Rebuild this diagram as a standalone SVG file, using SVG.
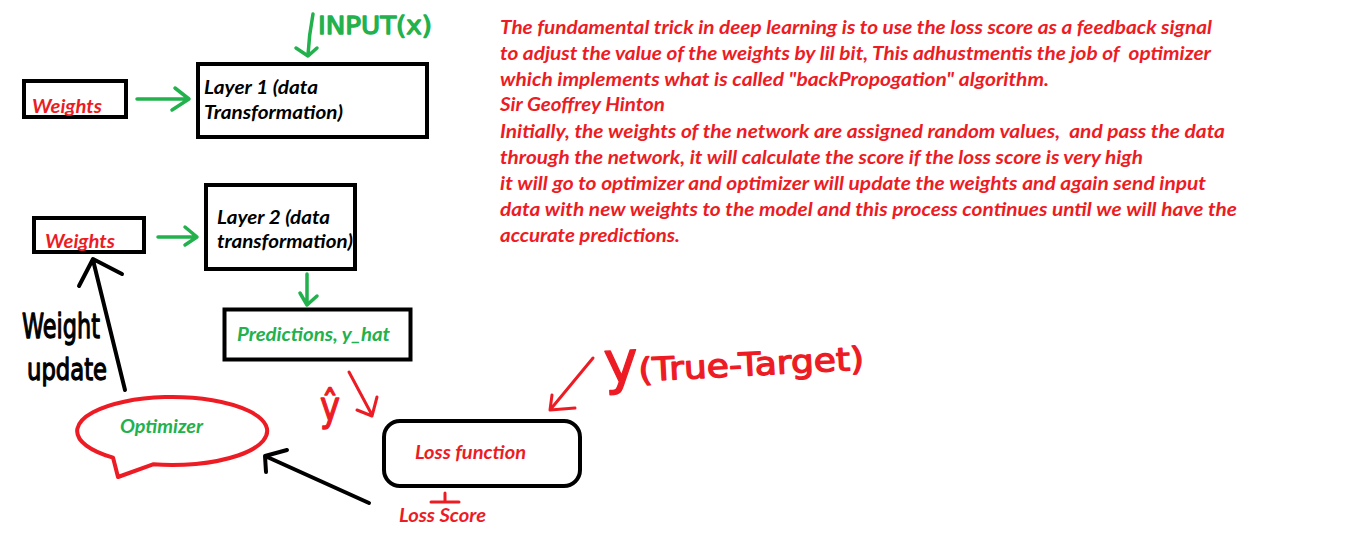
<svg xmlns="http://www.w3.org/2000/svg" width="1355" height="558" viewBox="0 0 1355 558">
<style>
.t{font-family:Lato,"Open Sans","Liberation Sans",sans-serif;font-weight:bold;font-style:italic;font-size:18px}
.blk{fill:#000}
.red{fill:#ED1C24}
.grn{fill:#22B14C}
.box{fill:none;stroke:#000;stroke-width:4}
.hand{font-family:"DejaVu Sans","Liberation Sans",sans-serif;font-weight:normal;stroke-width:1.3;stroke-linejoin:round}
.hand.red{stroke:#ED1C24}
.hand.grn{stroke:#22B14C}
.hand.blk{stroke:#000}
.body{white-space:pre}
.ln{fill:none;stroke-linecap:round;stroke-linejoin:round}
.g{stroke:#22B14C;stroke-width:3.5}
.r{stroke:#ED1C24;stroke-width:3}
.k{stroke:#000;stroke-width:4}
</style>
<rect width="1355" height="558" fill="#fff"/>

<g id="input">
  <text class="hand grn" x="318" y="34" font-size="24" textLength="114" lengthAdjust="spacingAndGlyphs">INPUT(x)</text>
</g>

<g id="weights1">
  <rect class="box" x="24" y="81" width="102" height="36"/>
  <text class="t red" x="32" y="113" textLength="70" lengthAdjust="spacingAndGlyphs">Weights</text>
</g>

<g id="layer1">
  <rect class="box" x="198" y="64" width="229" height="73"/>
  <text class="t blk" x="204" y="94" textLength="114" lengthAdjust="spacingAndGlyphs">Layer 1 (data</text>
  <text class="t blk" x="204" y="119" textLength="139" lengthAdjust="spacingAndGlyphs">Transformation)</text>
</g>

<g id="weights2">
  <rect class="box" x="34" y="218" width="110" height="34"/>
  <text class="t red" x="45" y="248" textLength="70" lengthAdjust="spacingAndGlyphs">Weights</text>
</g>

<g id="layer2">
  <rect class="box" x="206" y="185" width="149" height="84"/>
  <text class="t blk" x="217" y="224" textLength="113" lengthAdjust="spacingAndGlyphs">Layer 2 (data</text>
  <text class="t blk" x="217" y="248" textLength="136" lengthAdjust="spacingAndGlyphs">transformation)</text>
</g>

<g id="predictions">
  <rect class="box" x="224.5" y="309.5" width="186" height="50" stroke-width="5"/>
  <text class="t grn" x="237" y="341" textLength="153" lengthAdjust="spacingAndGlyphs">Predictions, y_hat</text>
</g>

<g id="optimizer">
  <path d="M113,457.6 L118,477 L153,464.3 A95,34 0 1 0 113,457.6 Z" fill="none" stroke="#ED1C24" stroke-width="4" stroke-linejoin="round"/>
  <text class="t grn" x="120" y="433" textLength="83" lengthAdjust="spacingAndGlyphs">Optimizer</text>
</g>

<g id="loss-function">
  <rect class="box" x="384" y="421" width="196" height="65" rx="16"/>
  <text class="t red" x="415" y="459" textLength="111" lengthAdjust="spacingAndGlyphs">Loss function</text>
</g>

<g id="loss-score">
  <path class="ln r" d="M445,493 L445,502 M431,502 L459,502"/>
  <text class="t red" x="399" y="522" textLength="87" lengthAdjust="spacingAndGlyphs">Loss Score</text>
</g>

<g id="weight-update-label">
  <text class="hand blk" x="22" y="338" font-size="34" textLength="78" lengthAdjust="spacingAndGlyphs">Weight</text>
  <text class="hand blk" x="27" y="380" font-size="30" textLength="80" lengthAdjust="spacingAndGlyphs">update</text>
</g>

<g id="y-hat-label">
  <text class="hand red" x="320" y="420" font-size="40" textLength="20" lengthAdjust="spacingAndGlyphs">ŷ</text>
</g>

<g id="true-target-label">
  <text class="hand red" transform="rotate(-3 606 370)"><tspan x="604" y="383" font-size="58">y</tspan><tspan font-size="32" textLength="226" lengthAdjust="spacingAndGlyphs">(True-Target)</tspan></text>
</g>

<g id="description">
  <text class="t red body" x="500" y="34" textLength="712" lengthAdjust="spacingAndGlyphs">The fundamental trick in deep learning is to use the loss score as a feedback signal</text>
  <text class="t red body" x="500" y="60" textLength="711" lengthAdjust="spacingAndGlyphs">to adjust the value of the weights by lil bit, This adhustmentis the job of  optimizer</text>
  <text class="t red body" x="500" y="86" textLength="549" lengthAdjust="spacingAndGlyphs">which implements what is called "backPropogation" algorithm.</text>
  <text class="t red body" x="500" y="111" textLength="165" lengthAdjust="spacingAndGlyphs">Sir Geoffrey Hinton</text>
  <text class="t red body" x="500" y="138" textLength="725" lengthAdjust="spacingAndGlyphs">Initially, the weights of the network are assigned random values,  and pass the data</text>
  <text class="t red body" x="500" y="164" textLength="643" lengthAdjust="spacingAndGlyphs">through the network, it will calculate the score if the loss score is very high</text>
  <text class="t red body" x="500" y="190" textLength="706" lengthAdjust="spacingAndGlyphs">it will go to optimizer and optimizer will update the weights and again send input</text>
  <text class="t red body" x="500" y="216" textLength="737" lengthAdjust="spacingAndGlyphs">data with new weights to the model and this process continues until we will have the</text>
  <text class="t red body" x="500" y="242" textLength="180" lengthAdjust="spacingAndGlyphs">accurate predictions.</text>
</g>

<g id="connectors">
  <path class="ln g" d="M313,14 Q309,35 308,55 M296,48 L308,56 L317,48"/>
  <path class="ln g" d="M137,99 L189,99 M175,88 L189,99 L172,110"/>
  <path class="ln g" d="M158,237 L197,237 M185,227 L197,237 L185,245"/>
  <path class="ln g" d="M307,274 L307,305 M300,293 L307,305 L317,296"/>
  <path class="ln r" d="M349,372 L372,415 M357,410 L372,416 L377,397"/>
  <path class="ln r" d="M593,358 L550,410 M552,395 L550,410 L575,408"/>
  <path class="ln k" d="M369,503 L265,456 M287,450 L265,456 L266,472"/>
  <path class="ln k" d="M125,390 L93,260 M79,286 L93,259 L122,274"/>
</g>
</svg>
